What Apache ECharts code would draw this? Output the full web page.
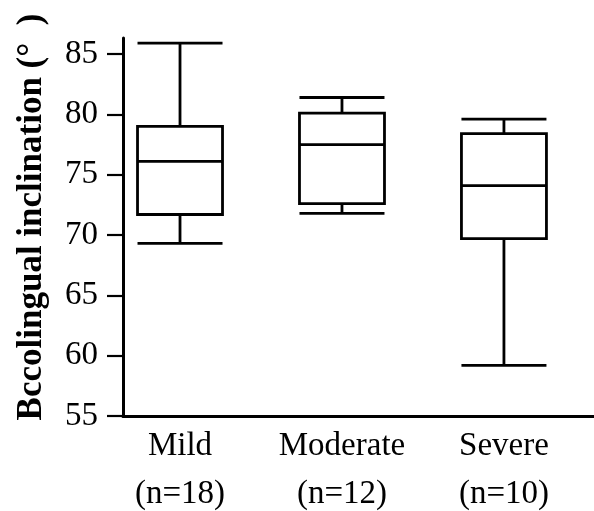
<!DOCTYPE html>
<html>
<head>
<meta charset="utf-8">
<script src="https://cdn.jsdelivr.net/npm/echarts@6/dist/echarts.min.js"></script>
<style>html,body{margin:0;padding:0;background:#fff}#c{width:594px;height:511px}</style>
</head>
<body>
<div id="c"></div>
<script>
const categories = ['Mild', 'Moderate', 'Severe'];
const groupSizes = ['(n=18)', '(n=12)', '(n=10)'];
// [min, Q1, median, Q3, max]
const mildStats = [69.3, 71.7, 76.1, 79.0, 85.9];
const moderateStats = [71.8, 72.6, 77.5, 80.1, 81.4];
const severeStats = [59.2, 69.7, 74.1, 78.4, 79.6];
const yTicks = [55, 60, 65, 70, 75, 80, 85];
const yName = 'Bccolingual inclination (°  )';

const stats = [mildStats, moderateStats, severeStats];
const boxData = stats.map((s, i) => [i].concat(s));
const serif = "'Liberation Serif', 'Times New Roman', serif";

const chart = echarts.init(document.getElementById('c'), null, {renderer: 'canvas'});
chart.setOption({
  animation: false,
  backgroundColor: '#fff',
  grid: {left: 123, right: 0, top: 38, bottom: 95, containLabel: false, outerBoundsMode: 'none'},
  xAxis: {
    type: 'value',
    min: -0.352,
    max: 2.556,
    splitLine: {show: false},
    axisLine: {show: true, onZero: false, lineStyle: {color: '#000', width: 3}},
    axisTick: {show: false},
    axisLabel: {
      customValues: [0, 1, 2],
      formatter: v => categories[v] + '\n' + groupSizes[v],
      color: '#000', fontFamily: serif, fontSize: 33, lineHeight: 48, margin: 6,
      showMinLabel: true, showMaxLabel: true, hideOverlap: false
    }
  },
  yAxis: {
    type: 'value',
    min: 55,
    max: 86.33,
    name: yName,
    nameLocation: 'middle',
    nameRotate: 90,
    nameGap: 74,
    nameMoveOverlap: false,
    nameTextStyle: {color: '#000', fontFamily: serif, fontSize: 35, fontWeight: 'bold', padding: [0, 0, 0, 20]},
    splitLine: {show: false},
    axisLine: {show: true, onZero: false, lineStyle: {color: '#000', width: 3}},
    axisTick: {show: true, customValues: yTicks, length: 16, lineStyle: {color: '#000', width: 2.2}},
    axisLabel: {customValues: yTicks, color: '#000', fontFamily: serif, fontSize: 33, margin: 25}
  },
  series: [{
    type: 'boxplot',
    data: boxData,
    boxWidth: [85, 85],
    itemStyle: {color: '#fff', borderColor: '#000', borderWidth: 2.8},
    emphasis: {disabled: true}
  }]
});
</script>
</body>
</html>
